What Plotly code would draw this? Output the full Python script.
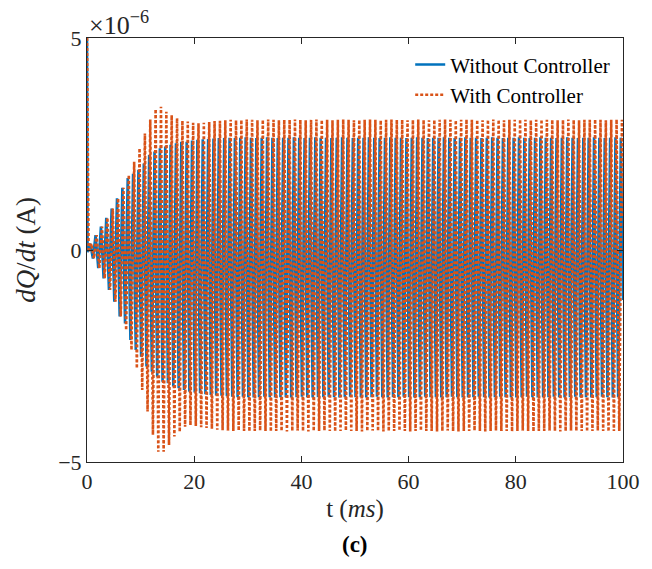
import numpy as np
import plotly.graph_objects as go

# Values in units of 1e-6 A. One upper and one lower extremum per ~1 ms cycle (k = 0..99).
spike_value = 5.0
blue_upper = [0.15, 0.35, 0.55, 0.76, 0.98, 1.22, 1.47, 1.70, 1.80, 1.89,
              2.04, 2.24, 2.32, 2.40, 2.44, 2.48, 2.52, 2.55, 2.55, 2.58,
              2.60, 2.61, 2.62, 2.63, 2.64, 2.64, 2.65, 2.64, 2.65, 2.66,
              2.65, 2.64, 2.65, 2.66, 2.65, 2.64, 2.65, 2.65, 2.66, 2.65,
              2.64, 2.65, 2.66, 2.65, 2.65, 2.64, 2.65, 2.66, 2.65, 2.64,
              2.65, 2.65, 2.66, 2.65, 2.64, 2.65, 2.66, 2.65, 2.65, 2.64,
              2.65, 2.66, 2.65, 2.64, 2.65, 2.65, 2.66, 2.65, 2.64, 2.65,
              2.66, 2.65, 2.65, 2.64, 2.65, 2.66, 2.65, 2.64, 2.65, 2.65,
              2.66, 2.65, 2.64, 2.65, 2.66, 2.65, 2.65, 2.64, 2.65, 2.66,
              2.65, 2.64, 2.65, 2.65, 2.66, 2.65, 2.64, 2.65, 2.66, 2.65]
blue_lower = [-0.05, -0.20, -0.43, -0.67, -0.94, -1.22, -1.57, -1.73, -2.12, -2.36,
              -2.52, -2.75, -2.87, -2.99, -3.11, -3.14, -3.22, -3.26, -3.30, -3.34,
              -3.36, -3.38, -3.40, -3.42, -3.43, -3.44, -3.45, -3.46, -3.47, -3.46,
              -3.47, -3.48, -3.47, -3.46, -3.47, -3.48, -3.47, -3.47, -3.48, -3.47,
              -3.46, -3.47, -3.48, -3.47, -3.47, -3.46, -3.47, -3.48, -3.47, -3.46,
              -3.47, -3.47, -3.48, -3.47, -3.46, -3.47, -3.48, -3.47, -3.47, -3.46,
              -3.47, -3.48, -3.47, -3.46, -3.47, -3.47, -3.48, -3.47, -3.46, -3.47,
              -3.48, -3.47, -3.47, -3.46, -3.47, -3.48, -3.47, -3.46, -3.47, -3.47,
              -3.48, -3.47, -3.46, -3.47, -3.48, -3.47, -3.47, -3.46, -3.47, -3.48,
              -3.47, -3.46, -3.47, -3.47, -3.48, -3.47, -3.46, -3.47, -3.48, -3.47]
blue_end = -1.18

orange_upper = [0.15, 0.35, 0.55, 0.76, 0.98, 1.22, 1.47, 1.77, 2.08, 2.40,
                2.75, 3.08, 3.32, 3.38, 3.26, 3.18, 3.11, 3.05, 3.03, 3.00,
                2.99, 3.00, 3.02, 3.04, 3.05, 3.06, 3.07, 3.06, 3.07, 3.08,
                3.07, 3.06, 3.07, 3.08, 3.07, 3.06, 3.07, 3.07, 3.08, 3.07,
                3.06, 3.07, 3.08, 3.07, 3.07, 3.06, 3.07, 3.08, 3.07, 3.06,
                3.07, 3.07, 3.08, 3.07, 3.06, 3.07, 3.08, 3.07, 3.07, 3.06,
                3.07, 3.08, 3.07, 3.06, 3.07, 3.07, 3.08, 3.07, 3.06, 3.07,
                3.08, 3.07, 3.07, 3.06, 3.07, 3.08, 3.07, 3.06, 3.07, 3.07,
                3.08, 3.07, 3.06, 3.07, 3.08, 3.07, 3.07, 3.06, 3.07, 3.08,
                3.07, 3.06, 3.07, 3.07, 3.08, 3.07, 3.06, 3.07, 3.08, 3.07]
orange_lower = [-0.05, -0.20, -0.43, -0.67, -0.94, -1.22, -1.57, -1.89, -2.36, -2.79,
                -3.30, -3.81, -4.36, -4.76, -4.76, -4.60, -4.40, -4.29, -4.17, -4.13,
                -4.15, -4.18, -4.20, -4.22, -4.24, -4.25, -4.26, -4.27, -4.26, -4.27,
                -4.28, -4.27, -4.26, -4.27, -4.28, -4.27, -4.27, -4.28, -4.27, -4.26,
                -4.27, -4.28, -4.27, -4.27, -4.26, -4.27, -4.28, -4.27, -4.26, -4.27,
                -4.27, -4.28, -4.27, -4.26, -4.27, -4.28, -4.27, -4.27, -4.26, -4.27,
                -4.28, -4.27, -4.26, -4.27, -4.27, -4.28, -4.27, -4.26, -4.27, -4.28,
                -4.27, -4.27, -4.26, -4.27, -4.28, -4.27, -4.26, -4.27, -4.27, -4.28,
                -4.27, -4.26, -4.27, -4.28, -4.27, -4.27, -4.26, -4.27, -4.28, -4.27,
                -4.26, -4.27, -4.27, -4.28, -4.27, -4.26, -4.27, -4.28, -4.27, -4.27]
orange_end = 0.8

x_ticks = [0, 20, 40, 60, 80, 100]
y_ticks = [-5, 0, 5]

period_ms = 1.0
t_end = 100.0


def build(upper, lower, end_value, phase):
    t = [0.0]
    y = [spike_value]
    for k, (lo, hi) in enumerate(zip(lower, upper)):
        t += [k * period_ms + 0.1 + phase, k * period_ms + 0.6 + phase]
        y += [lo, hi]
    t.append(t_end)
    y.append(end_value)
    return np.array(t), np.array(y) * 1e-6


tb, yb = build(blue_upper, blue_lower, blue_end, 0.0)
to, yo = build(orange_upper, orange_lower, orange_end, 0.2)

fig = go.Figure()
fig.add_trace(go.Scatter(x=tb, y=yb, mode="lines", name="Without Controller",
                         line=dict(color="#0072BD", width=2.6)))
fig.add_trace(go.Scatter(x=to, y=yo, mode="lines", name="With Controller",
                         line=dict(color="#D95319", width=2.6, dash="3px,2px")))

font_family = "Liberation Serif, DejaVu Serif, serif"
fig.update_layout(
    width=652, height=569,
    margin=dict(l=87, r=17, t=38, b=107),
    paper_bgcolor="white", plot_bgcolor="white",
    font=dict(family=font_family, size=22, color="#262626"),
    showlegend=True,
    legend=dict(x=0.603, y=0.985, xanchor="left", yanchor="top",
                bgcolor="rgba(0,0,0,0)", borderwidth=0,
                font=dict(size=21, color="black"), tracegroupgap=0),
    xaxis=dict(range=[0, 100], tickvals=x_ticks, ticks="inside", ticklen=6,
               tickcolor="#262626", showline=True, linecolor="#262626", linewidth=1,
               mirror="allticks", showgrid=False, zeroline=False,
               title=dict(text="t (<i>ms</i>)", standoff=6, font=dict(size=25))),
    yaxis=dict(range=[-5e-6, 5e-6], tickvals=[v * 1e-6 for v in y_ticks],
               ticktext=["\u22125", "0", "5"], ticks="inside", ticklen=6,
               tickcolor="#262626", showline=True, linecolor="#262626", linewidth=1,
               mirror="allticks", showgrid=False, zeroline=False,
               title=dict(text="<i>dQ</i>/<i>dt</i> (A)", standoff=14, font=dict(size=27))),
)

fig.add_annotation(text="\u00d710<sup>\u22126</sup>", xref="paper", yref="paper",
                   x=0.0, y=1.0, xanchor="left", yanchor="bottom", yshift=-4, showarrow=False,
                   font=dict(size=26, color="#262626"))
fig.add_annotation(text="<b>(c)</b>", xref="paper", yref="paper",
                   x=0.5, y=-0.16, xanchor="center", yanchor="top", showarrow=False,
                   font=dict(size=23, color="black"))

fig.write_html("out.html")
